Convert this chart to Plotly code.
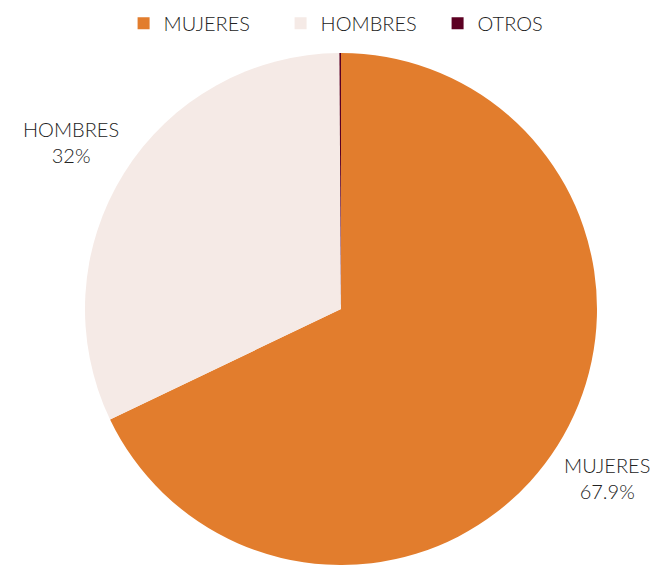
import plotly.graph_objects as go

labels = ["MUJERES", "HOMBRES", "OTROS"]
values = [67.9, 32.0, 0.1]
colors = ["#E27D2D", "#F5EAE6", "#5C0022"]

FONT = "Lato"
TXT = "#222222"

fig = go.Figure(go.Pie(
    labels=labels,
    values=values,
    sort=False,
    direction="clockwise",
    rotation=0,
    marker=dict(colors=colors, line=dict(width=0)),
    textinfo="none",
    hoverinfo="label+percent",
))

# label positions (paper coords) for the two visible slices
label_pos = {"HOMBRES": (0.073, 0.826), "MUJERES": (0.921, 0.17)}
annotations = []
for lab, val in zip(labels, values):
    if lab in label_pos:
        x, y = label_pos[lab]
        annotations.append(dict(
            x=x, y=y, xref="paper", yref="paper", showarrow=False,
            xanchor="center", yanchor="middle",
            text=f"{lab}<br>{val:g}%", align="center",
            font=dict(family=FONT, size=20, color=TXT, weight=300),
        ))

fig.update_layout(
    width=657, height=565,
    margin=dict(l=25, r=0, t=53, b=0),
    paper_bgcolor="white", plot_bgcolor="white",
    font=dict(family=FONT, size=20, color=TXT, weight=300),
    legend=dict(orientation="h", x=0.156, xanchor="left", y=1.058, yanchor="middle",
                entrywidth=112, entrywidthmode="pixels",
                font=dict(family=FONT, size=20, color=TXT, weight=300), itemwidth=30),
    annotations=annotations,
)

fig.write_html("out.html", post_script="document.body.style.margin='0';",
               config={"displayModeBar": False})
